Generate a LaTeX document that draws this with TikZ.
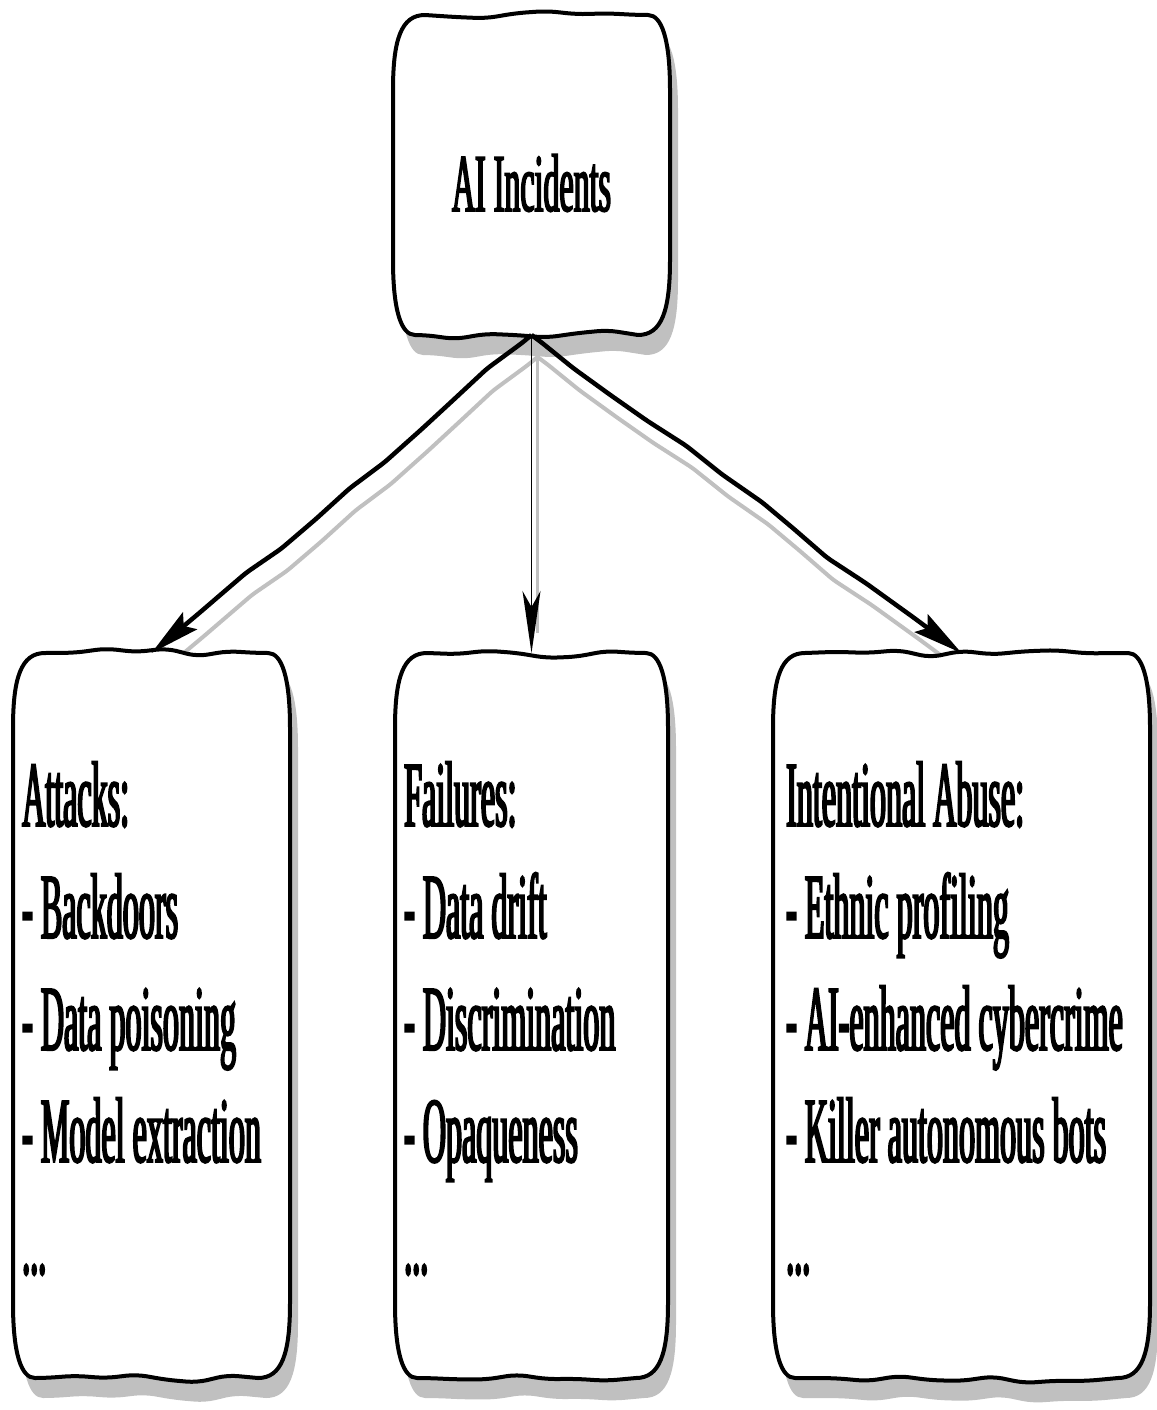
\documentclass[tikz,border=0pt]{standalone}
\usepackage{fontspec}
\setmainfont{Liberation Serif}
\newfontfamily\skbodyfont[FakeStretch=0.345,FakeBold=2]{Liberation Serif}
\newfontfamily\sktitlefont[FakeStretch=0.39,FakeBold=2]{Liberation Serif}
\usetikzlibrary{arrows.meta,decorations.pathmorphing}
\definecolor{shadowgray}{RGB}{192,192,192}

% #1 options, #2 L, #3 T, #4 R, #5 B, #6 wave amplitude
\newcommand\skshape[6]{%
  \pgfmathtruncatemacro\skN{max(2,round((#4-#2-64)/32))}%
  \pgfmathsetmacro\skS{(#4-#2-64)/\skN}%
  \pgfmathtruncatemacro\skM{\skN-1}%
  \path[#1] ({#2+32},{#3})
    {[rounded corners=10pt] \foreach \k in {1,...,\skM}{ -- ({#2+32+\k*\skS},{#3+#6*rand}) } -- ({#4-32},{#3})}
    .. controls ({#4-8},{#3}) and ({#4},{#3+25}) .. ({#4},{#3+75})
    -- ({#4},{#5-75})
    .. controls ({#4},{#5-25}) and ({#4-8},{#5}) .. ({#4-32},{#5})
    {[rounded corners=10pt] \foreach \k in {1,...,\skM}{ -- ({#4-32-\k*\skS},{#5+#6*rand}) } -- ({#2+32},{#5})}
    .. controls ({#2+8},{#5}) and ({#2},{#5-25}) .. ({#2},{#5-75})
    -- ({#2},{#3+75})
    .. controls ({#2},{#3+25}) and ({#2+8},{#3}) .. cycle;
}

\begin{document}
\begin{tikzpicture}[x=1pt,y=-1pt,
  boxnode/.style={rectangle, inner sep=0pt, outer sep=0pt, draw=none},
  bodytext/.style={anchor=base west, inner sep=0pt, font=\skbodyfont\fontsize{93}{93}\selectfont},
  titletext/.style={anchor=base, inner sep=0pt, font=\sktitlefont\fontsize{82}{82}\selectfont},
  sidewobble/.style={decorate, decoration={random steps, segment length=45pt, amplitude=3.5pt, pre length=12pt, post length=60pt}, rounded corners=5pt},
  sidearrow/.style={sidewobble, line width=4.5pt, line join=round, -{Stealth[length=50pt,width=22pt,inset=8pt]}},
  sideshadow/.style={sidewobble, line width=4pt, draw=shadowgray, shorten >=30pt, transform canvas={shift={(6,22)}}},
  midarrow/.style={line width=1.6pt, -{Stealth[length=62pt,width=18pt,inset=16pt]}},
  midshadow/.style={line width=2.4pt, draw=shadowgray, shorten >=40pt, transform canvas={shift={(6,20)}}},
  boxshadow/.style={fill=shadowgray},
  boxline/.style={fill=white, draw=black, line width=4pt, line join=round}
]
\useasboundingbox (0,0) rectangle (1156,1410);

% anchor nodes for the boxes
\node[boxnode, minimum width=277pt, minimum height=320pt] (incidents) at (531.5,175) {};
\node[boxnode, minimum width=277pt, minimum height=725pt] (attacks) at (151.5,1015.5) {};
\node[boxnode, minimum width=273pt, minimum height=725pt] (failures) at (531.5,1015.5) {};
\node[boxnode, minimum width=377pt, minimum height=725pt] (abuse) at (961.5,1015.5) {};

% box shadows
\pgfmathsetseed{3}\skshape{boxshadow}{401}{35}{678}{355}{5}
\pgfmathsetseed{5}\skshape{boxshadow}{21}{673}{298}{1398}{5}
\pgfmathsetseed{7}\skshape{boxshadow}{403}{673}{676}{1398}{5}
\pgfmathsetseed{9}\skshape{boxshadow}{781}{673}{1158}{1398}{5}

% connector shadows
\pgfmathsetseed{21}\draw[sideshadow] (incidents.south) -- (attacks.north);
\pgfmathsetseed{23}\draw[sideshadow] (incidents.south) -- (abuse.north);
\draw[midshadow] (incidents.south) -- (failures.north);

% boxes
\pgfmathsetseed{3}\skshape{boxline}{393}{15}{670}{335}{5}
\pgfmathsetseed{5}\skshape{boxline}{13}{653}{290}{1378}{5}
\pgfmathsetseed{7}\skshape{boxline}{395}{653}{668}{1378}{5}
\pgfmathsetseed{9}\skshape{boxline}{773}{653}{1150}{1378}{5}

% connectors
\pgfmathsetseed{21}\draw[sidearrow] (incidents.south) -- (attacks.north);
\pgfmathsetseed{23}\draw[sidearrow] (incidents.south) -- (abuse.north);
\draw[midarrow] (incidents.south) -- (failures.north);

% texts
\node[titletext] (title) at (531.5,211) {AI Incidents};

\node[bodytext] (a1) at (22,826) {Attacks:};
\node[bodytext] (a2) at (22,938) {- Backdoors};
\node[bodytext] (a3) at (22,1050) {- Data poisoning};
\node[bodytext] (a4) at (22,1162) {- Model extraction};
\node[bodytext] (a5) at (22,1274) {...};

\node[bodytext] (f1) at (404,826) {Failures:};
\node[bodytext] (f2) at (404,938) {- Data drift};
\node[bodytext] (f3) at (404,1050) {- Discrimination};
\node[bodytext] (f4) at (404,1162) {- Opaqueness};
\node[bodytext] (f5) at (404,1274) {...};

\node[bodytext] (i1) at (786,826) {Intentional Abuse:};
\node[bodytext] (i2) at (786,938) {- Ethnic profiling};
\node[bodytext] (i3) at (786,1050) {- AI-enhanced cybercrime};
\node[bodytext] (i4) at (786,1162) {- Killer autonomous bots};
\node[bodytext] (i5) at (786,1274) {...};
\end{tikzpicture}
\end{document}
